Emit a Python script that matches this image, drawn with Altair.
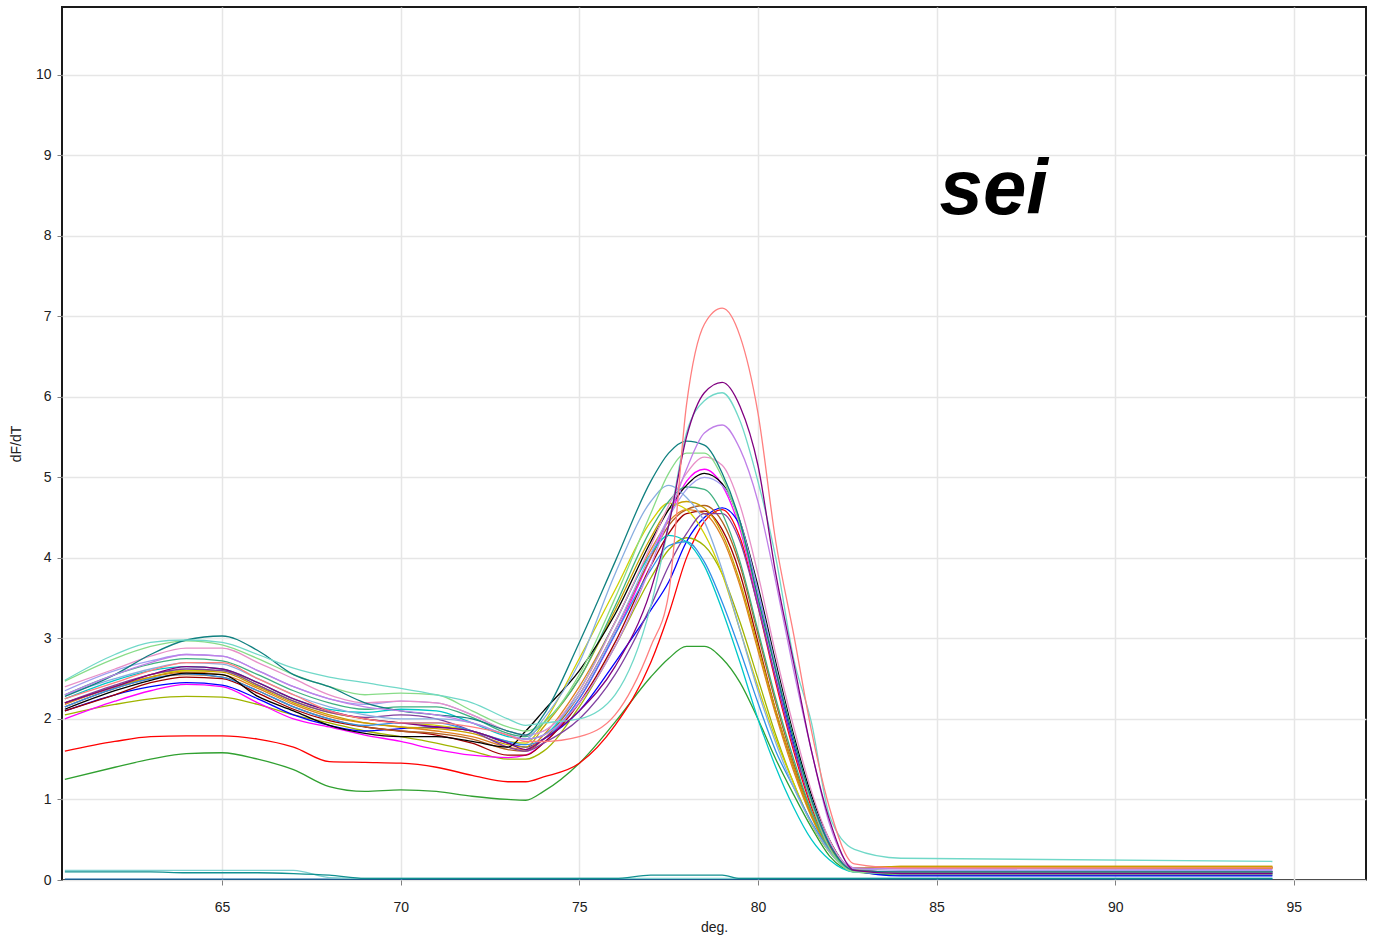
import altair as alt
import pandas as pd

# Temperature grid (deg C) shared by every well
temps = [60.6, 62, 63, 64, 65, 66, 67, 68, 69, 70, 71, 72, 73, 73.5, 74, 75, 76, 77,
         77.5, 78, 78.5, 79, 79.5, 80, 80.5, 81, 81.5, 82, 82.7, 84, 94.4]

# dF/dT melt-curve values per well
salmon = [2.25, 2.45, 2.6, 2.7, 2.7, 2.5, 2.3, 2.1, 2.0, 1.95, 1.95, 1.9, 1.8, 1.72, 1.72, 1.78, 2.05, 2.9, 3.55, 5.9, 6.9, 7.1, 6.75, 5.8, 4.2, 3.05, 1.85, 0.9, 0.2, 0.15, 0.15]
dark_purple = [2.2, 2.4, 2.55, 2.65, 2.62, 2.45, 2.25, 2.1, 2.0, 1.95, 1.9, 1.85, 1.7, 1.62, 1.75, 2.1, 2.65, 3.6, 4.4, 5.5, 6.05, 6.18, 5.88, 5.15, 3.8, 2.7, 1.6, 0.75, 0.12, 0.08, 0.08]
aquamarine = [2.48, 2.8, 2.95, 2.98, 2.95, 2.8, 2.63, 2.52, 2.45, 2.38, 2.3, 2.2, 2.0, 1.92, 1.95, 2.0, 2.3, 3.4, 4.4, 5.55, 5.95, 6.05, 5.7, 4.95, 4.0, 2.75, 1.95, 0.8, 0.38, 0.27, 0.23]
violet = [2.3, 2.55, 2.7, 2.8, 2.78, 2.6, 2.4, 2.25, 2.15, 2.1, 2.05, 1.95, 1.8, 1.75, 1.8, 2.2, 2.9, 3.9, 4.5, 5.1, 5.55, 5.65, 5.35, 4.7, 3.7, 2.6, 1.6, 0.7, 0.15, 0.14, 0.13]
dark_teal = [2.28, 2.55, 2.8, 2.98, 3.03, 2.85, 2.55, 2.4, 2.2, 2.1, 2.05, 2.0, 1.85, 1.8, 2.05, 2.95, 3.95, 4.95, 5.3, 5.45, 5.4, 5.05, 4.45, 3.5, 2.6, 1.75, 1.0, 0.45, 0.12, 0.1, 0.1]
light_green = [2.47, 2.75, 2.9, 2.97, 2.92, 2.75, 2.55, 2.4, 2.3, 2.32, 2.3, 2.1, 1.9, 1.85, 1.95, 2.55, 3.5, 4.55, 5.05, 5.3, 5.3, 5.0, 4.4, 3.5, 2.6, 1.75, 0.95, 0.4, 0.1, 0.08, 0.08]
cornflower = [2.3, 2.5, 2.62, 2.7, 2.68, 2.5, 2.3, 2.15, 2.05, 2.0, 2.0, 1.95, 1.8, 1.75, 2.0, 2.7, 3.8, 4.7, 4.9, 4.75, 4.45, 3.85, 3.1, 2.35, 1.7, 1.15, 0.7, 0.35, 0.1, 0.08, 0.08]
pink = [2.4, 2.62, 2.78, 2.88, 2.88, 2.7, 2.5, 2.3, 2.2, 2.22, 2.2, 2.05, 1.85, 1.8, 1.85, 2.35, 3.2, 4.15, 4.65, 5.05, 5.25, 5.15, 4.65, 3.8, 2.8, 1.9, 1.1, 0.5, 0.12, 0.1, 0.1]
magenta = [2.0, 2.22, 2.35, 2.43, 2.4, 2.2, 2.0, 1.9, 1.8, 1.72, 1.62, 1.55, 1.52, 1.55, 1.7, 2.25, 3.05, 4.0, 4.5, 4.95, 5.1, 4.9, 4.35, 3.45, 2.5, 1.65, 0.95, 0.45, 0.12, 0.1, 0.1]
black = [2.12, 2.35, 2.48, 2.57, 2.55, 2.28, 2.1, 1.92, 1.82, 1.78, 1.78, 1.72, 1.65, 1.85, 2.1, 2.6, 3.3, 4.2, 4.6, 4.9, 5.05, 4.92, 4.45, 3.65, 2.7, 1.8, 1.05, 0.5, 0.12, 0.1, 0.1]
gold = [2.2, 2.4, 2.52, 2.6, 2.58, 2.4, 2.2, 2.05, 1.95, 1.9, 1.88, 1.82, 1.68, 1.65, 1.9, 2.5, 3.35, 4.25, 4.6, 4.7, 4.62, 4.3, 3.7, 2.9, 2.1, 1.4, 0.8, 0.38, 0.15, 0.17, 0.17]
brown = [2.15, 2.38, 2.5, 2.55, 2.52, 2.35, 2.15, 2.0, 1.9, 1.85, 1.82, 1.75, 1.62, 1.6, 1.75, 2.3, 3.1, 4.0, 4.4, 4.6, 4.65, 4.45, 3.9, 3.05, 2.2, 1.45, 0.85, 0.4, 0.15, 0.15, 0.15]
red = [1.6, 1.72, 1.78, 1.79, 1.79, 1.75, 1.65, 1.47, 1.46, 1.45, 1.4, 1.3, 1.22, 1.22, 1.28, 1.45, 1.92, 2.7, 3.3, 4.0, 4.45, 4.6, 4.25, 3.4, 2.45, 1.6, 0.9, 0.42, 0.15, 0.16, 0.15]
dark_red = [2.1, 2.3, 2.45, 2.52, 2.5, 2.32, 2.12, 1.98, 1.9, 1.85, 1.8, 1.7, 1.55, 1.55, 1.7, 2.2, 2.95, 3.9, 4.3, 4.55, 4.58, 4.35, 3.8, 2.95, 2.1, 1.4, 0.8, 0.38, 0.14, 0.15, 0.15]
blue = [2.1, 2.3, 2.4, 2.45, 2.42, 2.25, 2.05, 1.92, 1.85, 1.88, 1.9, 1.85, 1.7, 1.65, 1.75, 2.1, 2.7, 3.35, 3.7, 4.2, 4.5, 4.62, 4.4, 3.6, 2.6, 1.7, 0.95, 0.45, 0.12, 0.05, 0.05]
cyan = [2.25, 2.48, 2.6, 2.65, 2.62, 2.45, 2.25, 2.12, 2.08, 2.12, 2.1, 1.95, 1.78, 1.75, 1.8, 2.35, 3.2, 4.05, 4.28, 4.2, 3.9, 3.35, 2.7, 2.0, 1.4, 0.9, 0.5, 0.25, 0.1, 0.1, 0.1]
dodger = [2.15, 2.38, 2.5, 2.56, 2.52, 2.35, 2.15, 2.0, 1.92, 1.95, 1.95, 1.85, 1.72, 1.68, 1.75, 2.25, 3.05, 3.85, 4.15, 4.2, 3.95, 3.45, 2.85, 2.2, 1.6, 1.15, 0.72, 0.38, 0.1, 0.08, 0.08]
olive = [2.05, 2.18, 2.25, 2.28, 2.27, 2.18, 2.05, 1.95, 1.85, 1.78, 1.7, 1.6, 1.5, 1.5, 1.6, 2.15, 2.9, 3.75, 4.1, 4.25, 4.15, 3.8, 3.2, 2.5, 1.8, 1.2, 0.7, 0.35, 0.1, 0.08, 0.08]
green = [1.25, 1.4, 1.5, 1.57, 1.58, 1.5, 1.37, 1.16, 1.1, 1.12, 1.1, 1.04, 1.0, 0.99, 1.1, 1.45, 1.96, 2.52, 2.75, 2.9, 2.9, 2.75, 2.45, 2.0, 1.5, 1.06, 0.65, 0.3, 0.1, 0.06, 0.06]
yellow = [2.2, 2.4, 2.55, 2.6, 2.6, 2.42, 2.22, 2.08, 2.0, 1.95, 1.92, 1.85, 1.72, 1.7, 1.95, 2.75, 3.6, 4.45, 4.68, 4.6, 4.3, 3.8, 3.1, 2.4, 1.75, 1.2, 0.7, 0.35, 0.12, 0.15, 0.15]
purple = [2.2, 2.42, 2.55, 2.62, 2.6, 2.42, 2.22, 2.08, 2.02, 2.05, 2.0, 1.85, 1.65, 1.6, 1.7, 2.0, 2.55, 3.4, 3.9, 4.3, 4.55, 4.55, 4.2, 3.4, 2.5, 1.65, 0.95, 0.45, 0.12, 0.08, 0.08]
orange = [2.18, 2.4, 2.52, 2.58, 2.55, 2.38, 2.18, 2.03, 1.95, 1.9, 1.85, 1.78, 1.65, 1.62, 1.8, 2.4, 3.2, 4.1, 4.45, 4.6, 4.55, 4.25, 3.65, 2.85, 2.05, 1.35, 0.78, 0.38, 0.15, 0.17, 0.17]
seagreen = [2.3, 2.55, 2.68, 2.75, 2.72, 2.55, 2.35, 2.2, 2.12, 2.15, 2.15, 2.02, 1.82, 1.78, 1.95, 2.5, 3.4, 4.35, 4.7, 4.88, 4.85, 4.55, 3.95, 3.1, 2.25, 1.5, 0.85, 0.4, 0.12, 0.1, 0.1]
lilac = [2.35, 2.6, 2.72, 2.8, 2.78, 2.6, 2.4, 2.25, 2.18, 2.22, 2.2, 2.05, 1.85, 1.8, 1.85, 2.3, 3.1, 4.05, 4.5, 4.85, 5.0, 4.9, 4.45, 3.6, 2.65, 1.75, 1.0, 0.48, 0.14, 0.12, 0.12]
# no-template controls, flat near zero
ntc_a = [0.1, 0.1, 0.1, 0.09, 0.09, 0.09, 0.08, 0.06, 0.02, 0.02, 0.02, 0.02, 0.02, 0.02, 0.02, 0.02, 0.02, 0.06, 0.06, 0.06, 0.06, 0.06, 0.02, 0.02, 0.02, 0.02, 0.02, 0.02, 0.02, 0.02, 0.02]
ntc_b = [0.12, 0.12, 0.12, 0.12, 0.12, 0.12, 0.12, 0.03, 0.02, 0.02, 0.02, 0.02, 0.02, 0.02, 0.02, 0.02, 0.02, 0.02, 0.02, 0.02, 0.02, 0.02, 0.02, 0.02, 0.02, 0.02, 0.02, 0.02, 0.02, 0.02, 0.02]
ntc_c = [0.01] * len(temps)

wells = [
    ("W01", "#1060A0", ntc_c), ("W02", "#7ED0D0", ntc_b), ("W03", "#109090", ntc_a),
    ("W04", "#30A030", green), ("W05", "#FF0000", red), ("W06", "#A0B400", olive),
    ("W07", "#FF00FF", magenta), ("W08", "#0000FF", blue), ("W09", "#A00000", dark_red),
    ("W10", "#B06020", brown), ("W11", "#E08020", orange), ("W12", "#C8A000", gold),
    ("W13", "#D0D000", yellow), ("W14", "#8040A0", purple), ("W15", "#3090E8", dodger),
    ("W16", "#00C8C8", cyan), ("W17", "#40B080", seagreen), ("W18", "#000000", black),
    ("W19", "#A0A0F0", lilac), ("W20", "#E890C8", pink), ("W21", "#88AEE0", cornflower),
    ("W22", "#88DC88", light_green), ("W23", "#108080", dark_teal), ("W24", "#C080E8", violet),
    ("W25", "#70D8C8", aquamarine), ("W26", "#800080", dark_purple), ("W27", "#FF7F7F", salmon),
]

rows = []
for name, _, vals in wells:
    for t, v in zip(temps, vals):
        rows.append({"well": name, "temp": t, "dfdt": v})
df = pd.DataFrame(rows)

x_scale = alt.Scale(domain=[60.52, 97.02], nice=False, zero=False)
y_scale = alt.Scale(domain=[0, 10.84], nice=False)

lines = alt.Chart(df).mark_line(strokeWidth=1.3, interpolate="monotone", clip=True).encode(
    x=alt.X("temp:Q", scale=x_scale,
            axis=alt.Axis(values=[65, 70, 75, 80, 85, 90, 95], format="d", title="deg.")),
    y=alt.Y("dfdt:Q", scale=y_scale,
            axis=alt.Axis(values=list(range(0, 11)), format="d", title="dF/dT")),
    color=alt.Color("well:N", legend=None,
                    scale=alt.Scale(domain=[w[0] for w in wells], range=[w[1] for w in wells])),
    detail="well:N",
)

label = alt.Chart().mark_text(
    text="sei", font="Liberation Sans", fontSize=78, fontStyle="italic", fontWeight="bold",
    color="black", align="center", baseline="middle",
).encode(x=alt.datum(86.6, scale=x_scale), y=alt.datum(8.55, scale=y_scale))

chart = alt.layer(lines, label).properties(
    width=1304, height=873,
    autosize=alt.AutoSizeParams(type="none"),
    padding={"left": 62, "top": 7, "right": 10, "bottom": 65},
).configure_view(
    stroke="#1a1a1a", strokeWidth=2,
).configure_axis(
    domain=False, grid=True, gridColor="#e6e6e6", gridWidth=1.5,
    tickColor="#808080", tickSize=5, labelFont="Liberation Sans", labelFontSize=14,
    labelColor="#202020", titleFont="Liberation Sans", titleFontSize=14,
    titleFontWeight="normal", titleColor="#202020",
).configure_axisX(labelPadding=15, titlePadding=6).configure_axisY(labelPadding=6, titlePadding=12)

chart.save("out.html", embed_options={"renderer": "svg", "actions": False})
